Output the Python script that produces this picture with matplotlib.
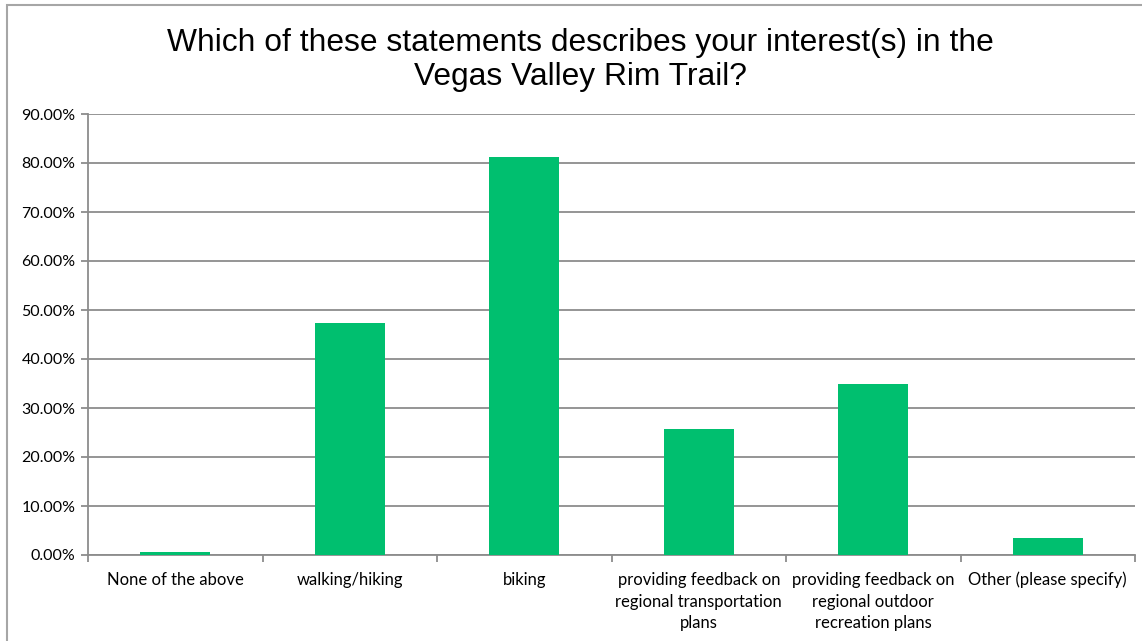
import matplotlib.pyplot as plt
from matplotlib.patches import Rectangle
from matplotlib.ticker import FuncFormatter, MultipleLocator

categories = [
    "None of the above",
    "walking/hiking",
    "biking",
    "providing feedback on\nregional transportation\nplans",
    "providing feedback on\nregional outdoor\nrecreation plans",
    "Other (please specify)",
]
shares = [0.6, 47.4, 81.3, 25.7, 34.9, 3.5]

title = "Which of these statements describes your interest(s) in the\nVegas Valley Rim Trail?"

W, H = 1142, 641
fig = plt.figure(figsize=(W / 100, H / 100), dpi=100)

# outer chart frame
fig.patches.append(Rectangle((7 / W, -0.05), 1.2, 1 - 5 / H + 0.05,
                             transform=fig.transFigure, fill=False,
                             edgecolor="#a6a6a6", linewidth=1.5))

ax = fig.add_axes([88 / W, (H - 555) / H, (1135 - 88) / W, (555 - 114) / H])

x = range(len(categories))
ax.bar(x, shares, width=0.4, color="#00bf6f", zorder=3)

ax.set_xlim(-0.5, len(categories) - 0.5)
ax.set_ylim(0, 90)
ax.yaxis.set_major_locator(MultipleLocator(10))
ax.yaxis.set_major_formatter(FuncFormatter(lambda v, _: f"{v:.2f}%"))
ax.grid(axis="y", color="#8c8c8c", linewidth=1.3, zorder=0)

ax.set_xticks([i + 0.5 for i in range(-1, len(categories))], minor=False)
ax.set_xticklabels([])
ax.set_xticks(list(x), minor=True)
ax.set_xticklabels(categories, minor=True, fontfamily="Lato", fontsize=12,
                   linespacing=1.45)
ax.tick_params(axis="x", which="minor", length=0, pad=12)
ax.tick_params(axis="x", which="major", length=5, color="#8c8c8c", width=1.3)
ax.tick_params(axis="y", length=5, color="#8c8c8c", width=1.3, pad=4)
for lbl in ax.get_yticklabels():
    lbl.set_fontfamily("Lato")
    lbl.set_fontsize(11.5)

for side in ("top", "right"):
    ax.spines[side].set_visible(False)
for side in ("left", "bottom"):
    ax.spines[side].set_color("#8c8c8c")
    ax.spines[side].set_linewidth(1.3)

fig.text(580 / W, 1 - 60 / H, title, ha="center", va="center",
         fontfamily="Liberation Sans", fontsize=22.9, linespacing=1.2)

fig.savefig("out.png", dpi=100)
